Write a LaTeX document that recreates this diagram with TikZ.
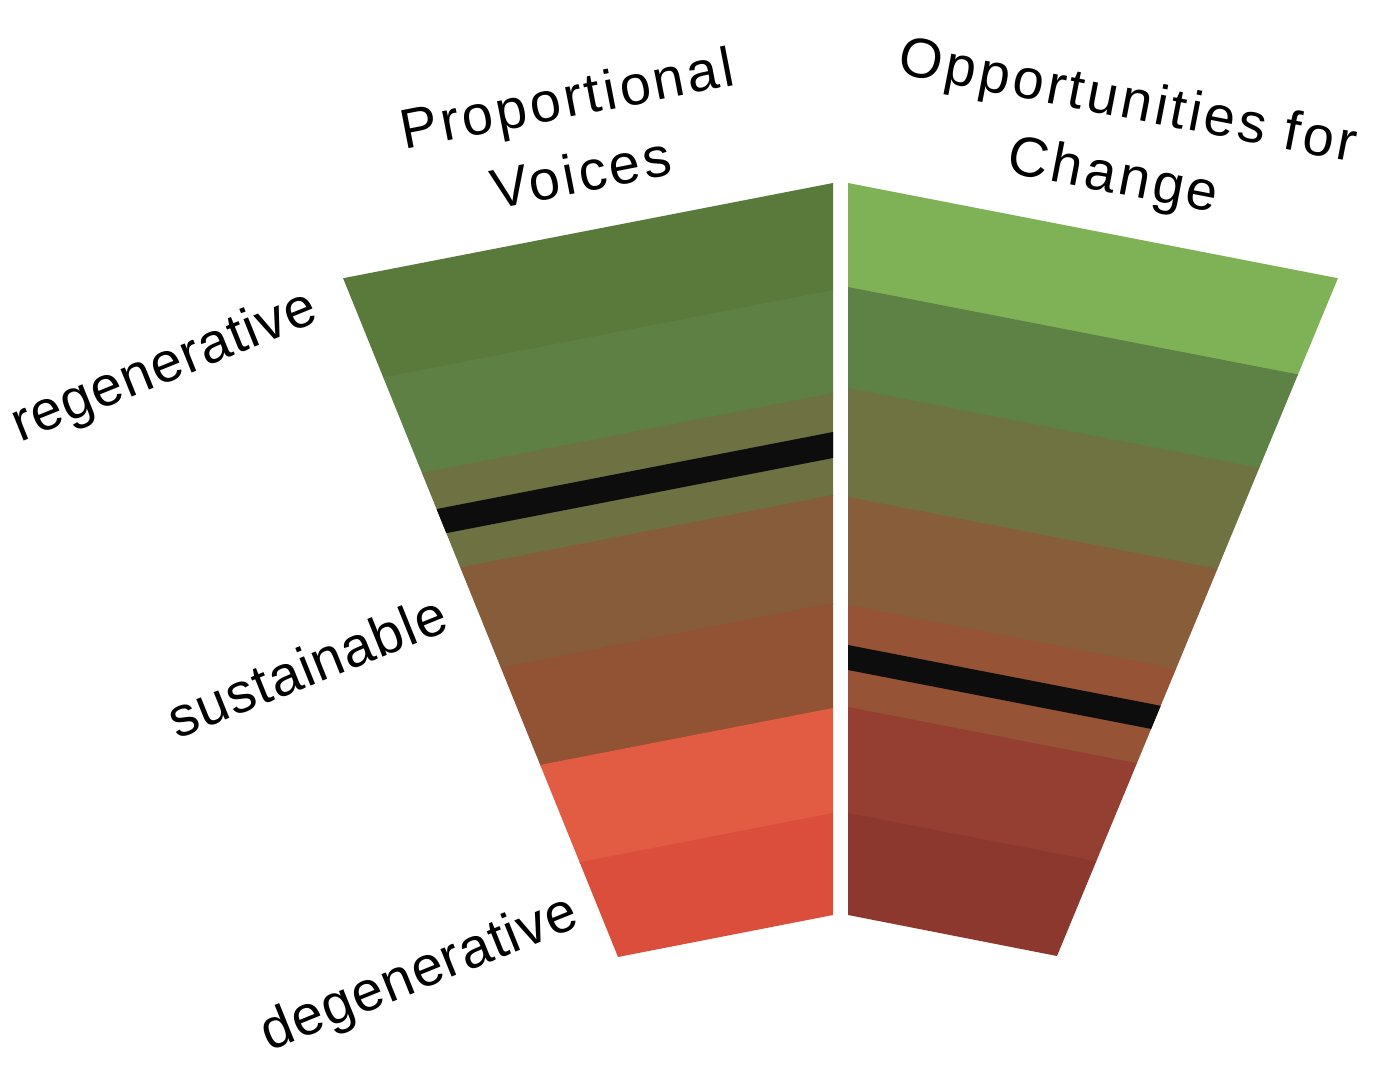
\documentclass[tikz,border=0pt]{standalone}
\usepackage{fontspec}
\setmainfont{Liberation Sans}
\newfontfamily\hdrfont[LetterSpace=6]{Liberation Sans}
\newfontfamily\sidefont[LetterSpace=2]{Liberation Sans}
\usepackage{xcolor}
\usepackage{tikz}

\definecolor{lgreenA}{HTML}{5A7A3C}
\definecolor{lgreenB}{HTML}{5E8044}
\definecolor{lolive}{HTML}{6E7141}
\definecolor{lbrown}{HTML}{865C3A}
\definecolor{lrust}{HTML}{925234}
\definecolor{lorange}{HTML}{E25B43}
\definecolor{lred}{HTML}{DB4E3C}
\definecolor{rgreenA}{HTML}{7FB157}
\definecolor{rgreenB}{HTML}{5E8145}
\definecolor{rolive}{HTML}{6F7341}
\definecolor{rbrown}{HTML}{875D3A}
\definecolor{rrust}{HTML}{965335}
\definecolor{rred}{HTML}{953F33}
\definecolor{rdark}{HTML}{8D382E}
\definecolor{bar}{HTML}{0D0D0D}

% one band of the left / right fan, given by its edges on the inner side
\newcommand\leftband[3]{\fill[#3] (833,#1) -- (833,#2+1) -- (300,#2+1+103.6) -- (300,#1+103.6) -- cycle;}
\newcommand\rightband[3]{\fill[#3] (848,#1) -- (848,#2+1) -- (1380,#2+1+103.4) -- (1380,#1+103.4) -- cycle;}

\begin{document}
\begin{tikzpicture}[x=1pt, y=-1pt,
  lbl/.style={font=\hdrfont\fontsize{56}{76}\selectfont, align=center, inner sep=0pt},
  side/.style={font=\sidefont\fontsize{56}{76}\selectfont, inner sep=0pt, rotate=22},
]
\useasboundingbox (0,0) rectangle (1393,1084);

% left fan: proportional voices
\begin{scope}
  \clip (343,278) -- (833,183) -- (833,915) -- (618,957) -- cycle;
  \leftband{183}{290}{lgreenA}
  \leftband{290}{393}{lgreenB}
  \leftband{393}{495}{lolive}
  \leftband{495}{603}{lbrown}
  \leftband{603}{708}{lrust}
  \leftband{708}{813}{lorange}
  \leftband{813}{915}{lred}
  \leftband{432}{457}{bar}
\end{scope}

% right fan: opportunities for change
\begin{scope}
  \clip (848,183) -- (1338,278) -- (1057,956) -- (848,915) -- cycle;
  \rightband{183}{287}{rgreenA}
  \rightband{287}{388}{rgreenB}
  \rightband{388}{497}{rolive}
  \rightband{497}{605}{rbrown}
  \rightband{605}{707}{rrust}
  \rightband{707}{813}{rred}
  \rightband{813}{915}{rdark}
  \rightband{645}{669}{bar}
\end{scope}

\node[lbl, rotate=11] (voices) at (574,135) {Proportional\\Voices};
\node[lbl, rotate=-11] (change) at (1120,141) {Opportunities for\\Change};

\node[side] (regen) at (165,368) {regenerative};
\node[side] (sustain) at (307,666) {sustainable};
\node[side] (degen) at (420,975) {degenerative};
\end{tikzpicture}
\end{document}
